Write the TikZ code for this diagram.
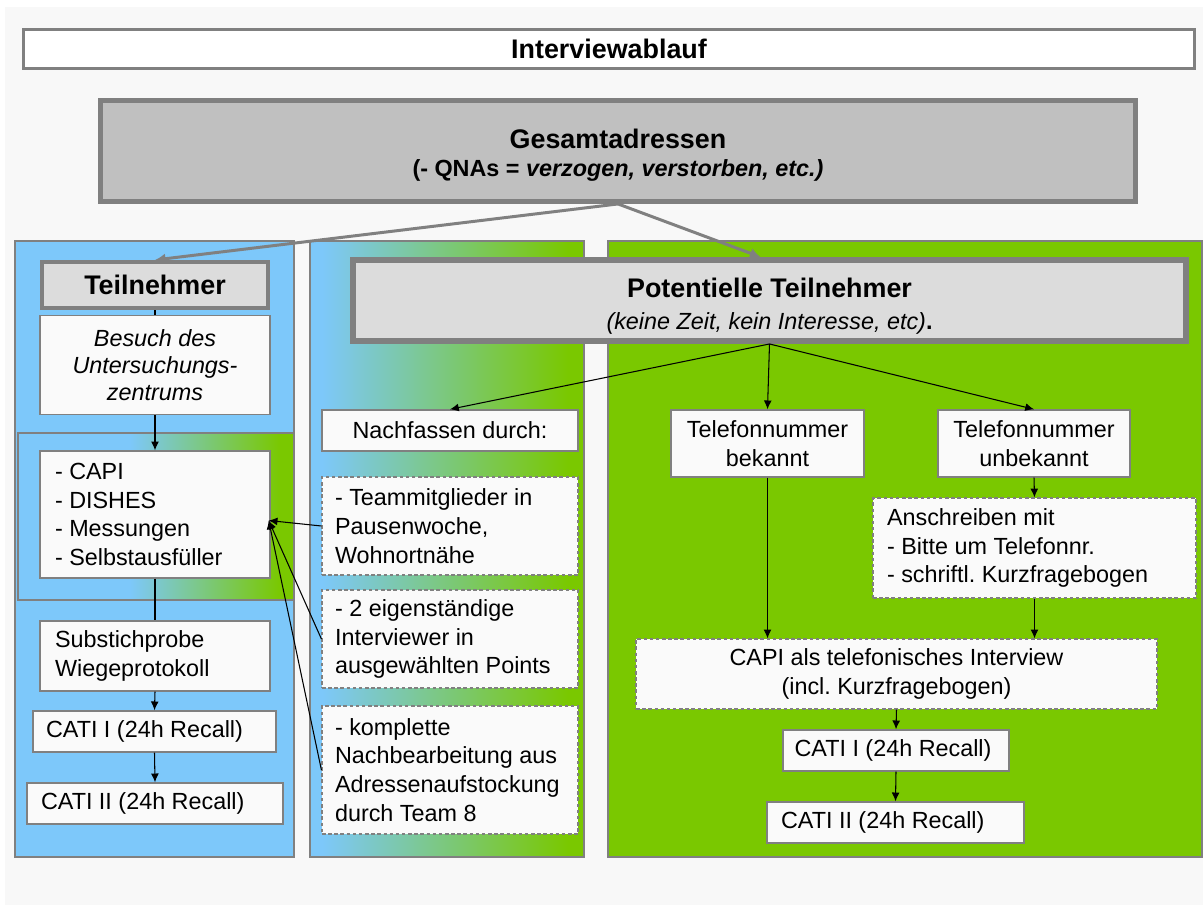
\documentclass[tikz,border=0pt]{standalone}
\usepackage{fontspec}
\setmainfont{Liberation Sans}
\usetikzlibrary{arrows.meta,calc}
\definecolor{pblue}{RGB}{125,200,250}
\definecolor{pgreen}{RGB}{122,200,0}
\definecolor{bgray}{RGB}{128,128,128}
\definecolor{bgfill}{RGB}{248,248,248}
\definecolor{boxfill}{RGB}{250,250,250}
\definecolor{gsfill}{RGB}{192,192,192}
\definecolor{hdfill}{RGB}{220,220,220}
\newcommand\hdfont{\fontsize{15.3}{18}\selectfont\bfseries}
\begin{document}
\begin{tikzpicture}[x=0.02cm,y=-0.02cm,
  txt/.style={font=\fontsize{13.3}{16.4}\selectfont\frenchspacing},
  plainbox/.style={txt, draw=bgray, fill=boxfill, line width=0.8pt, inner sep=0pt, align=center},
  listbox/.style={plainbox, align=flush left},
  dashbox/.style={listbox, dash pattern=on 2pt off 1.5pt, line width=0.7pt},
  headbox/.style={draw=bgray, fill=hdfill, inner sep=0pt, align=center},
  panel/.style={draw=bgray, line width=0.8pt},
  flow/.style={-{Latex[length=5pt,width=4.5pt]}, line width=0.6pt},
  plain/.style={line width=0.6pt},
  grayarrow/.style={draw=bgray, line width=1.7pt, -{Latex[length=6pt,width=6pt]}}
]
\useasboundingbox (0,0) rectangle (1203,905);
\fill[white] (0,0) rectangle (1203,905);
\fill[bgfill] (5,7) rectangle (1203,905);

% panels
\fill[pblue] (15,241) rectangle (294,857);
\fill[pblue] (18,433) rectangle (294,600);
\shade[left color=pblue, right color=pgreen] (130,433) rectangle (280,600);
\fill[pgreen] (280,433) rectangle (294,600);
\draw[panel] (18,433) rectangle (294,600);
\draw[panel] (15,241) rectangle (294,857);

\fill[pblue] (310,241) rectangle (584,857);
\shade[left color=pblue, right color=pgreen] (322,241) rectangle (568,857);
\fill[pgreen] (568,241) rectangle (584,857);
\draw[panel] (310,241) rectangle (584,857);

\filldraw[panel, fill=pgreen] (608,241) rectangle (1202,857);

% title
\node[draw=bgray, fill=white, line width=1.7pt, inner sep=0pt,
      minimum width=23.42cm, minimum height=0.78cm] (title) at (609,49)
      {\hdfont Interviewablauf};

% Gesamtadressen
\node[headbox, fill=gsfill, line width=2.8pt, minimum width=20.7cm, minimum height=2.02cm] (gesamt) at (618,151)
  {{\hdfont\rule{0pt}{16pt}Gesamtadressen}\\[4pt]
   {\fontsize{13.3}{16.4}\selectfont\bfseries (- QNAs = \itshape verzogen, verstorben, etc.)}};

% left column
\node[headbox, line width=2.3pt, minimum width=4.52cm, minimum height=0.92cm] (teiln) at (155,285)
  {\hdfont Teilnehmer};
\node[plainbox, minimum width=4.6cm, minimum height=1.98cm, font=\fontsize{13.3}{15.3}\selectfont\itshape] (besuch) at (155,365)
  {Besuch des\\Untersuchungs-\\zentrums};
\node[listbox, text width=4.0cm, inner xsep=0.3cm, minimum height=2.54cm] (capi) at (155,514.5)
  {- CAPI\\- DISHES\\- Messungen\\- Selbstausfüller};
\node[listbox, text width=4.0cm, inner xsep=0.3cm, minimum height=1.4cm] (subst) at (155,656)
  {Substichprobe\\Wiegeprotokoll};
\node[listbox, text width=4.34cm, inner xsep=0.26cm, minimum height=0.82cm] (catil1) at (154.5,731.5)
  {CATI I (24h Recall)};
\node[listbox, text width=4.56cm, inner xsep=0.28cm, minimum height=0.82cm] (catil2) at (155,803.5)
  {CATI II (24h Recall)};

% middle column
\node[plainbox, minimum width=5.12cm, minimum height=0.82cm] (nachf) at (450,430.5)
  {Nachfassen durch:};
\node[dashbox, text width=4.6cm, inner xsep=0.26cm, minimum height=1.96cm] (dash1) at (450,526)
  {- Teammitglieder in\\Pausenwoche,\\Wohnortnähe};
\node[dashbox, text width=4.6cm, inner xsep=0.26cm, minimum height=1.96cm] (dash2) at (450,639)
  {- 2 eigenständige\\Interviewer in\\ausgewählten Points};
\node[dashbox, text width=4.6cm, inner xsep=0.26cm, minimum height=2.56cm] (dash3) at (450,770)
  {- komplette\\Nachbearbeitung aus\\Adressenaufstockung\\durch Team 8};

% right column
\node[headbox, line width=3.4pt, minimum width=16.66cm, minimum height=1.62cm] (potent) at (769.5,300.5)
  {{\hdfont\rule{0pt}{17.5pt}Potentielle Teilnehmer}\\[6.5pt]
   {\fontsize{13.3}{16.4}\selectfont\textit{(keine Zeit, kein Interesse, etc)}\textbf{.}}};
\node[plainbox, minimum width=3.86cm, minimum height=1.34cm] (telbek) at (767.5,443.5)
  {Telefonnummer\\bekannt};
\node[plainbox, minimum width=3.84cm, minimum height=1.34cm] (telunb) at (1034,443.5)
  {Telefonnummer\\unbekannt};
\node[dashbox, text width=5.9cm, inner xsep=0.28cm, minimum height=2.0cm] (ansch) at (1034.5,548)
  {Anschreiben mit\\- Bitte um Telefonnr.\\- schriftl. Kurzfragebogen};
\node[dashbox, align=center, minimum width=10.42cm, minimum height=1.4cm] (capitel) at (896.5,674)
  {CAPI als telefonisches Interview\\(incl. Kurzfragebogen)};
\node[listbox, text width=4.06cm, inner xsep=0.23cm, minimum height=0.82cm] (catir1) at (896,750.5)
  {CATI I (24h Recall)};
\node[listbox, text width=4.58cm, inner xsep=0.28cm, minimum height=0.82cm] (catir2) at (895.5,822.5)
  {CATI II (24h Recall)};

% gray arrows
\draw[grayarrow] (gesamt.south) -- (teiln.north);
\draw[grayarrow] (gesamt.south) -- ($(potent.north)+(-9,0)$);

% left flow
\draw[plain] (teiln.south) -- (besuch.north);
\draw[flow] (besuch.south) -- (capi.north);
\draw[plain] (capi.south) -- (subst.north);
\draw[flow] (subst.south) -- (catil1.north);
\draw[flow] (catil1.south) -- (catil2.north);

% middle to capi
\coordinate (tip) at ($(capi.east)+(-2,6)$);
\draw[flow] (dash1.west) -- (tip);
\draw[flow] (dash2.west) -- (tip);
\draw[flow] (dash3.west) -- (tip);

% right flow
\draw[flow] (potent.south) -- (nachf.north);
\draw[flow] (potent.south) -- (telbek.north);
\draw[flow] (potent.south) -- (telunb.north);
\draw[flow] (telbek.south) -- (telbek.south |- capitel.north);
\draw[flow] (telunb.south) -- (ansch.north);
\draw[flow] (ansch.south) -- (ansch.south |- capitel.north);
\draw[flow] (capitel.south) -- (catir1.north);
\draw[flow] (catir1.south) -- (catir2.north);
\end{tikzpicture}
\end{document}
